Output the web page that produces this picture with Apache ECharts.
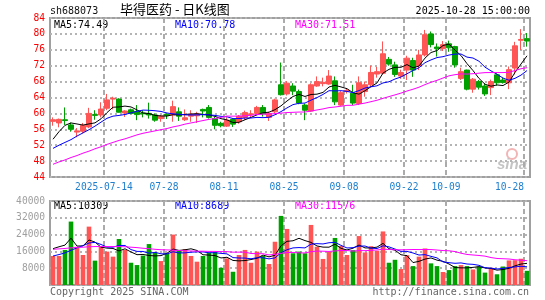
<!DOCTYPE html>
<html>
<head>
<meta charset="utf-8">
<title>毕得医药 - 日K线图</title>
<script src="https://cdn.jsdelivr.net/npm/echarts@6.0.0/dist/echarts.min.js"></script>
<style>
html, body { margin: 0; padding: 0; background: #fff; }
#app { width: 545px; height: 300px; }
</style>
</head>
<body>
<div id="app"></div>
<script>
// 交易日 (2025-07-01 ~ 2025-10-28)
var dates = [
    '07-01','07-02','07-03','07-04','07-07','07-08','07-09','07-10','07-11','07-14',
    '07-15','07-16','07-17','07-18','07-21','07-22','07-23','07-24','07-25','07-28',
    '07-29','07-30','07-31','08-01','08-04','08-05','08-06','08-07','08-08','08-11',
    '08-12','08-13','08-14','08-15','08-18','08-19','08-20','08-21','08-22','08-25',
    '08-26','08-27','08-28','08-29','09-01','09-02','09-03','09-04','09-05','09-08',
    '09-09','09-10','09-11','09-12','09-15','09-16','09-17','09-18','09-19','09-22',
    '09-23','09-24','09-25','09-26','09-29','09-30','10-09','10-10','10-13','10-14',
    '10-15','10-16','10-17','10-20','10-21','10-22','10-23','10-24','10-27','10-28'
];
var open = [
    58.0, 57.6, 58.4, 57.1, 55.3, 55.5, 56.6, 59.7, 59.6, 61.3,
    63.6, 63.6, 60.1, 60.9, 60.5, 60.1, 60.0, 59.6, 58.7, 59.8,
    59.6, 60.4, 58.4, 59.3, 59.4, 61.0, 61.5, 58.7, 57.5, 56.8,
    58.5, 57.9, 59.0, 59.7, 60.0, 61.5, 59.0, 60.4, 67.2, 64.9,
    66.9, 65.5, 62.1, 60.6, 66.9, 67.5, 67.4, 68.2, 62.1, 65.5,
    65.1, 62.5, 65.5, 67.2, 69.9, 70.1, 73.6, 72.2, 69.4, 70.9,
    73.3, 72.0, 74.7, 80.0, 76.7, 76.3, 77.5, 76.8, 68.8, 70.9,
    66.1, 68.0, 66.9, 66.5, 69.7, 68.4, 67.7, 71.4, 78.4, 78.8
];
var close = [
    58.4, 58.5, 58.2, 56.0, 55.6, 57.0, 60.0, 59.5, 61.1, 63.4,
    63.8, 60.3, 60.6, 60.0, 59.7, 59.9, 59.6, 58.3, 59.3, 59.5,
    61.7, 59.3, 58.9, 59.8, 59.9, 60.6, 59.0, 57.0, 56.9, 58.3,
    57.3, 59.3, 60.2, 59.9, 61.5, 59.9, 60.0, 63.4, 64.7, 67.6,
    65.6, 62.6, 60.8, 67.2, 68.0, 67.8, 69.4, 62.9, 65.2, 65.8,
    62.6, 67.7, 67.2, 70.3, 70.5, 75.0, 72.4, 69.8, 70.3, 73.9,
    70.9, 74.7, 79.8, 77.3, 76.3, 77.3, 76.5, 72.2, 70.5, 66.1,
    68.6, 66.6, 64.9, 68.0, 67.7, 67.8, 71.0, 77.0, 78.6, 78.2
];
var high = [
    59.0, 58.7, 61.5, 57.7, 56.3, 57.6, 61.4, 60.8, 62.8, 64.9,
    64.2, 63.8, 60.8, 61.2, 62.1, 60.8, 62.7, 60.0, 59.6, 60.0,
    63.2, 61.5, 61.0, 60.8, 60.4, 61.2, 62.1, 59.2, 57.9, 59.0,
    58.7, 59.6, 60.7, 60.8, 61.9, 62.1, 60.4, 63.7, 72.8, 68.1,
    67.6, 66.0, 62.5, 67.6, 69.3, 69.0, 70.9, 69.3, 65.6, 66.3,
    67.2, 69.3, 68.0, 72.0, 71.7, 78.1, 74.2, 73.0, 71.0, 74.5,
    74.0, 76.0, 81.0, 80.6, 77.6, 78.2, 78.3, 77.0, 71.5, 71.0,
    68.9, 68.4, 67.6, 68.5, 70.1, 69.0, 71.8, 78.0, 81.2, 80.2
];
var low = [
    56.9, 56.5, 57.1, 55.4, 54.0, 55.0, 56.3, 58.4, 59.0, 60.8,
    61.0, 60.2, 59.1, 59.8, 58.3, 59.0, 58.7, 57.9, 57.9, 58.6,
    57.9, 58.1, 58.1, 57.9, 57.6, 59.0, 58.7, 56.0, 56.5, 56.6,
    56.6, 57.4, 58.4, 59.0, 59.6, 59.2, 58.1, 60.0, 64.5, 64.5,
    64.6, 62.3, 58.3, 60.4, 66.7, 66.8, 67.2, 62.1, 61.9, 65.0,
    62.1, 62.1, 64.2, 66.7, 69.0, 69.8, 72.0, 69.2, 68.7, 68.4,
    69.2, 70.9, 74.3, 76.6, 74.3, 75.7, 75.5, 71.5, 68.4, 65.8,
    65.2, 66.0, 64.4, 64.6, 67.0, 67.5, 66.1, 69.8, 76.0, 76.8
];
// 价格均线
var ma5 = [
    53.5, 55.4, 57.0, 57.6, 57.34, 57.06, 57.36, 57.62, 58.64, 60.20,
    61.56, 61.62, 61.84, 61.62, 60.88, 60.10, 59.96, 59.50, 59.36, 59.32,
    59.68, 59.62, 59.74, 59.84, 59.92, 59.70, 59.64, 59.26, 58.68, 58.36,
    57.70, 57.76, 58.40, 59.00, 59.64, 60.16, 60.30, 60.94, 61.90, 63.12,
    64.26, 64.78, 64.26, 64.76, 64.84, 65.28, 66.64, 67.06, 66.66, 66.22,
    65.18, 64.84, 65.70, 66.72, 67.66, 70.14, 71.08, 71.60, 71.60, 72.28,
    71.46, 71.92, 73.92, 75.32, 75.80, 77.08, 77.44, 75.92, 74.56, 72.52,
    70.78, 68.80, 67.34, 66.84, 67.16, 67.00, 67.88, 70.30, 72.42, 74.49
];
var ma10 = [
    51.2, 52.0, 52.7, 53.4, 54.3, 55.1, 55.9, 56.8, 57.8, 58.77,
    59.31, 59.49, 59.73, 60.13, 60.54, 60.83, 60.79, 60.67, 60.49, 60.10,
    59.89, 59.79, 59.62, 59.60, 59.62, 59.69, 59.63, 59.50, 59.26, 59.14,
    58.70, 58.70, 58.83, 58.84, 59.00, 58.93, 59.03, 59.67, 60.45, 61.38,
    62.21, 62.54, 62.60, 63.33, 63.98, 64.77, 65.71, 65.66, 65.71, 65.53,
    65.23, 65.74, 66.38, 66.69, 66.94, 67.66, 67.96, 68.65, 69.16, 69.97,
    70.80, 71.50, 72.76, 73.46, 74.04, 74.27, 74.68, 74.92, 74.94, 74.16,
    73.93, 73.12, 71.63, 70.70, 69.84, 68.89, 68.34, 68.82, 69.63, 70.78
];
var ma30 = [
    47.2, 47.8, 48.3, 48.9, 49.4, 50.0, 50.5, 51.1, 51.6, 52.2,
    52.7, 53.2, 53.6, 54.1, 54.6, 55.0, 55.3, 55.6, 55.9, 56.2,
    56.6, 56.9, 57.3, 57.6, 57.9, 58.2, 58.5, 58.7, 59.0, 59.34,
    59.30, 59.33, 59.39, 59.52, 59.72, 59.82, 59.82, 59.95, 60.07, 60.21,
    60.27, 60.34, 60.35, 60.59, 60.87, 61.13, 61.46, 61.61, 61.81, 62.02,
    62.05, 62.33, 62.60, 62.95, 63.31, 63.79, 64.23, 64.66, 65.11, 65.63,
    66.08, 66.59, 67.25, 67.83, 68.32, 68.90, 69.45, 69.74, 69.94, 69.89,
    69.99, 70.12, 70.26, 70.28, 70.27, 70.27, 70.33, 70.80, 71.24, 71.51
];
// 成交量(手)及均量
var volume = [
    13800, 13800, 16700, 30200, 18200, 14300, 27800, 11600, 18200, 15900,
    13500, 21900, 16700, 10600, 9500, 14000, 19500, 15600, 11400, 15100,
    24000, 16200, 17100, 13800, 11100, 13800, 15400, 15900, 8200, 12700,
    6300, 14300, 16700, 10600, 15900, 13800, 10000, 20600, 32900, 26700,
    15100, 15900, 15100, 28600, 18200, 12400, 15700, 22400, 18600, 14300,
    16600, 23300, 15500, 18500, 16300, 25500, 10600, 12000, 7600, 14200,
    9000, 13500, 17400, 10300, 9000, 6200, 7100, 9000, 9500, 9000,
    7400, 8800, 5900, 8200, 5100, 8800, 11700, 11800, 12500, 6750
];
var vma5 = [
    17300, 18200, 19000, 22300, 18540, 18640, 21440, 20420, 18020, 17560,
    17400, 16220, 17240, 15720, 14440, 14540, 14060, 13840, 14000, 15120,
    17120, 16460, 16760, 17240, 16440, 14400, 14240, 14000, 12880, 13200,
    11700, 11480, 11640, 12120, 12760, 14260, 13400, 14180, 18640, 20800,
    21060, 22240, 21140, 20280, 18580, 18040, 18000, 19460, 17460, 16680,
    17520, 19040, 17660, 17640, 18040, 19820, 17280, 16580, 14400, 13980,
    10680, 11260, 12340, 12880, 11840, 11280, 10000, 8320, 8160, 8160,
    8400, 8740, 8120, 7860, 7080, 7360, 7940, 9120, 9980, 10309
];
var vma10 = [
    13800, 14500, 15300, 16500, 17700, 18700, 20000, 20300, 19300, 18050,
    18020, 18830, 18830, 16870, 16000, 15970, 15140, 15540, 14860, 14780,
    15830, 15260, 15300, 15620, 15780, 15760, 15350, 15380, 15060, 14820,
    13050, 12860, 12820, 12500, 12980, 12980, 12440, 12910, 15380, 16780,
    17660, 17820, 17660, 19460, 19690, 19550, 20120, 20300, 18870, 17630,
    17780, 18520, 18560, 17550, 17360, 18670, 18160, 17120, 16020, 16010,
    15250, 14270, 14460, 13640, 12910, 10980, 10630, 10330, 10520, 10000,
    9840, 9370, 8220, 8010, 7620, 7880, 8340, 8620, 8920, 8689
];
var vma30 = [
    17000, 17200, 17400, 17700, 17900, 18000, 18200, 18300, 18300, 18300,
    18300, 18300, 18200, 18000, 17800, 17500, 17300, 17000, 16800, 16700,
    16600, 16400, 16300, 16200, 16100, 16100, 16000, 16000, 15900, 15880,
    15630, 15650, 15650, 15000, 14920, 14900, 14310, 14610, 15100, 15460,
    15510, 15310, 15260, 15860, 16150, 16100, 15970, 16200, 16440, 16410,
    16160, 16400, 16350, 16500, 16680, 17070, 16910, 16780, 16760, 16810,
    16900, 16870, 16890, 16880, 16650, 16400, 16300, 15920, 15140, 14550,
    14290, 14050, 13750, 13070, 12630, 12510, 12380, 12020, 11820, 11576
];
// 坐标轴刻度
var xTickLabels = ['2025-07-14', '07-28', '08-11', '08-25', '09-08', '09-22', '10-09', '10-28'];
var priceMin = 44, priceMax = 84, priceStep = 4;
var volMin = 0, volMax = 40000, volStep = 8000;
// 图例/说明文字
var priceMaText = ['MA5:74.49', 'MA10:70.78', 'MA30:71.51'];
var volMaText = ['MA5:10309', 'MA10:8689', 'MA30:11576'];

var MONO = '"DejaVu Sans Mono", monospace';
var RED = '#ff5555';
var GREEN = '#00a000';
var MA_COLORS = ['#000000', '#0000ff', '#ff00ff'];

function tickText(value) {
    for (var i = 0; i < xTickLabels.length; i++) {
        if (xTickLabels[i].slice(-5) === value) return xTickLabels[i];
    }
    return null;
}
function isTick(index, value) {
    return tickText(value) !== null;
}

// 网格线所用的分界轴: 每根K线左边界一个点
var edges = dates.concat(['']);
var candleData = dates.map(function (d, i) {
    return [open[i], close[i], low[i], high[i]];
});

var dashLine = { show: true, interval: isTick, lineStyle: { color: '#ababab', type: [5, 3], width: 2 } };
var dotLine = { lineStyle: { color: '#b4b4b4', type: [2, 3], width: 2 } };

function maLine(name, data, color, xi, yi) {
    return {
        name: name, type: 'line', data: data, xAxisIndex: xi, yAxisIndex: yi,
        symbol: 'none', silent: true, z: 3,
        lineStyle: { color: color, width: 1 }
    };
}

function text(x, y, str, color, align, font) {
    return {
        type: 'text', x: x, y: y, silent: true,
        style: {
            text: str, fill: color, font: font || ('10px ' + MONO),
            textAlign: align || 'left', textVerticalAlign: 'middle'
        }
    };
}

var chart = echarts.init(document.getElementById('app'), null, { renderer: 'canvas' });

var option = {
    animation: false,
    backgroundColor: '#ffffff',
    grid: [
        { left: 50, top: 18, width: 480, height: 159, show: true, borderColor: '#a0a0a0', borderWidth: 2 },
        { left: 50, top: 201, width: 480, height: 84, show: true, borderColor: '#a0a0a0', borderWidth: 2 }
    ],
    xAxis: [
        { type: 'category', gridIndex: 0, data: dates, boundaryGap: true, show: false },
        {
            type: 'category', gridIndex: 0, data: edges, boundaryGap: false, position: 'bottom',
            axisLine: { show: false }, axisTick: { show: false },
            axisLabel: {
                interval: isTick, margin: 5, color: '#1f7fcf', fontFamily: MONO, fontSize: 9.6,
                formatter: function (v) {
                    var t = tickText(v);
                    if (v === dates[dates.length - 1]) return '{r|' + t + '}';
                    return t;
                },
                rich: { r: { padding: [0, 29, 0, 0], color: '#1f7fcf', fontFamily: MONO, fontSize: 9.6 } }
            },
            splitLine: dashLine
        },
        { type: 'category', gridIndex: 1, data: dates, boundaryGap: true, show: false },
        {
            type: 'category', gridIndex: 1, data: edges, boundaryGap: false, position: 'bottom',
            axisLine: { show: false }, axisTick: { show: false }, axisLabel: { show: false },
            splitLine: dashLine
        }
    ],
    yAxis: [
        {
            type: 'value', gridIndex: 0, min: priceMin, max: priceMax, interval: priceStep,
            axisLine: { show: false }, axisTick: { show: false },
            axisLabel: { color: '#ff0000', fontFamily: MONO, fontSize: 9.6, margin: 5 },
            splitLine: dotLine
        },
        {
            type: 'value', gridIndex: 1, min: volMin, max: volMax, interval: volStep,
            axisLine: { show: false }, axisTick: { show: false },
            axisLabel: {
                color: '#a0a0a0', fontFamily: MONO, fontSize: 9.6, margin: 5,
                formatter: function (v) { return v === 0 ? '' : String(v); }
            },
            splitLine: dotLine
        }
    ],
    series: [
        {
            name: 'K', type: 'candlestick', data: candleData, xAxisIndex: 0, yAxisIndex: 0,
            barWidth: 4.6, silent: true,
            itemStyle: { color: RED, color0: GREEN, borderColor: RED, borderColor0: GREEN, borderWidth: 1 }
        },
        maLine('MA5', ma5, MA_COLORS[0], 0, 0),
        maLine('MA10', ma10, MA_COLORS[1], 0, 0),
        maLine('MA30', ma30, MA_COLORS[2], 0, 0),
        {
            name: 'VOL', type: 'bar', data: volume, xAxisIndex: 2, yAxisIndex: 1,
            barWidth: 4.6, silent: true,
            itemStyle: {
                color: function (p) {
                    return close[p.dataIndex] >= open[p.dataIndex] ? RED : GREEN;
                }
            }
        },
        maLine('VMA5', vma5, MA_COLORS[0], 2, 1),
        maLine('VMA10', vma10, MA_COLORS[1], 2, 1),
        maLine('VMA30', vma30, MA_COLORS[2], 2, 1)
    ],
    graphic: [
        text(50, 11, 'sh688073', '#111111'),
        text(120, 9, '毕得医药 - 日K线图', '#000000', 'left', '13px "Noto Sans CJK SC", sans-serif'),
        text(530, 11, '2025-10-28 15:00:00', '#000000', 'right'),
        text(54, 25, priceMaText[0], MA_COLORS[0]),
        text(175, 25, priceMaText[1], MA_COLORS[1]),
        text(295, 25, priceMaText[2], MA_COLORS[2]),
        text(54, 206, volMaText[0], MA_COLORS[0]),
        text(175, 206, volMaText[1], MA_COLORS[1]),
        text(295, 206, volMaText[2], MA_COLORS[2]),
        text(50, 292, 'Copyright 2025 SINA.COM', '#666666'),
        text(529, 292, 'http://finance.sina.com.cn', '#666666', 'right'),
        // 新浪水印
        {
            type: 'circle', silent: true, shape: { cx: 512, cy: 154, r: 5 },
            style: { fill: 'none', stroke: '#f2b4b4', lineWidth: 2 }
        },
        text(497, 165, 'sina', '#c4c4c4', 'left', 'italic bold 15px "Liberation Sans", sans-serif')
    ]
};

chart.setOption(option);
</script>
</body>
</html>
